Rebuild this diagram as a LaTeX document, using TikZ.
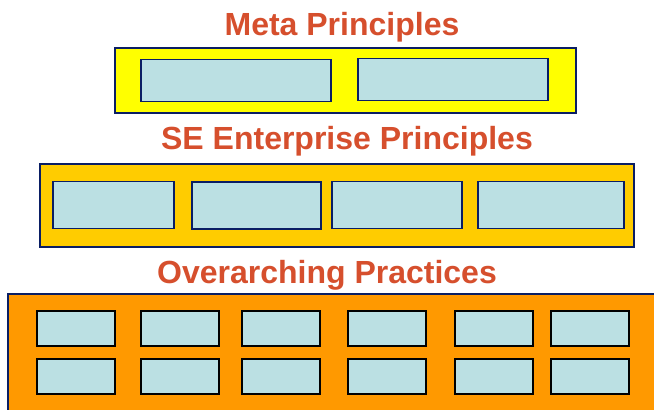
\documentclass[tikz,border=0pt]{standalone}
\usepackage{fontspec}
\setmainfont{Liberation Sans}
\usepackage{tikz}

\definecolor{titlered}{RGB}{214,79,45}
\definecolor{framenavy}{RGB}{10,30,100}
\definecolor{cellblue}{RGB}{187,224,227}
\definecolor{metayellow}{RGB}{255,255,0}
\definecolor{segold}{RGB}{255,204,0}
\definecolor{practorange}{RGB}{255,153,0}

\tikzset{
	layer/.style={draw=framenavy, line width=2pt, inner sep=0pt},
	cell/.style={draw=framenavy, fill=cellblue, line width=1.6pt, inner sep=0pt},
	pcell/.style={cell, draw=black, minimum width=78pt, minimum height=35pt},
	heading/.style={text=titlered, font=\bfseries\fontsize{32}{32}\selectfont, anchor=base}
}

\begin{document}
\begin{tikzpicture}[x=1pt, y=-1pt]
	% Pixel-like coordinates, y grows downwards.
	\clip (0,0) rectangle (654,410);
	\fill[white] (0,0) rectangle (654,410);

	% Top layer
	\node (metaTitle) [heading] at (342,35) {Meta Principles};
	\node (meta) [layer, fill=metayellow, minimum width=461pt, minimum height=65pt] at (345.5,80.5) {};
	\node (meta1) [cell, minimum width=190pt, minimum height=42pt] at (236,80.5) {};
	\node (meta2) [cell, minimum width=190pt, minimum height=42pt] at (453,79.5) {};

	% Middle layer
	\node (seTitle) [heading] at (347,149) {SE Enterprise Principles};
	\node (se) [layer, fill=segold, minimum width=594pt, minimum height=83pt] at (337,205.5) {};
	\node (se1) [cell, minimum width=121pt, minimum height=47pt] at (113.5,205) {};
	\node (se2) [cell, minimum width=129pt, minimum height=47pt] at (256.5,205.5) {};
	\node (se3) [cell, minimum width=130pt, minimum height=47pt] at (397,205) {};
	\node (se4) [cell, minimum width=146pt, minimum height=47pt] at (551,205) {};

	% Bottom layer, runs past the right and lower edges
	\node (practTitle) [heading] at (327,283) {Overarching Practices};
	\node (pract) [layer, fill=practorange, minimum width=662pt, minimum height=136pt] at (339,362) {};
	\node (pa1) [pcell] at (76,328.5) {};
	\node (pa2) [pcell] at (180,328.5) {};
	\node (pa3) [pcell] at (281,328.5) {};
	\node (pa4) [pcell] at (387,328.5) {};
	\node (pa5) [pcell] at (494,328.5) {};
	\node (pa6) [pcell] at (590,328.5) {};
	\node (pb1) [pcell] at (76,376.5) {};
	\node (pb2) [pcell] at (180,376.5) {};
	\node (pb3) [pcell] at (281,376.5) {};
	\node (pb4) [pcell] at (387,376.5) {};
	\node (pb5) [pcell] at (494,376.5) {};
	\node (pb6) [pcell] at (590,376.5) {};
\end{tikzpicture}
\end{document}
